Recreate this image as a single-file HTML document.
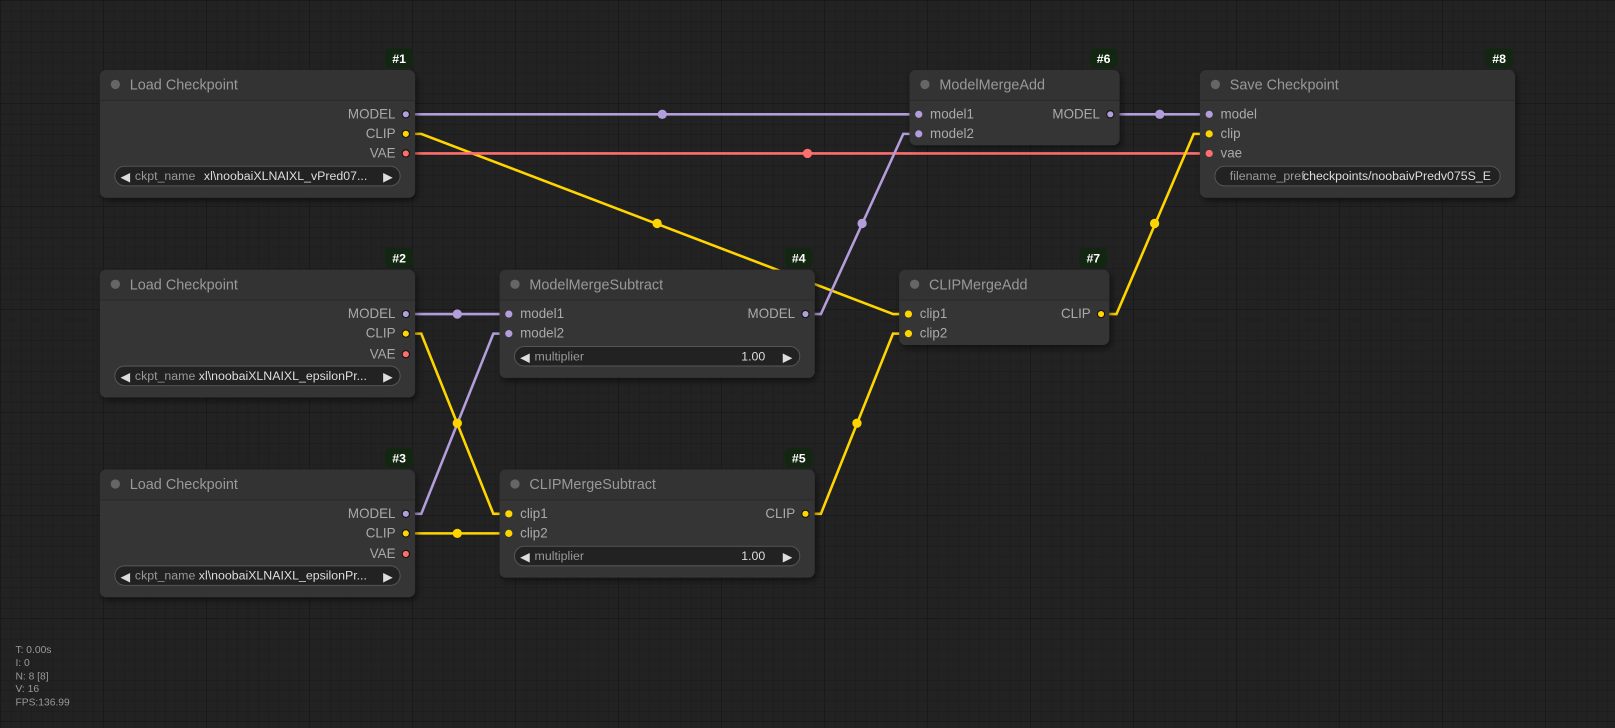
<!DOCTYPE html>
<html><head><meta charset="utf-8"><style>
body{margin:0;width:1615px;height:728px;overflow:hidden;background:#222;font-family:"Liberation Sans",sans-serif;}
svg{position:absolute;left:0;top:0}
</style></head><body>
<svg width="1615" height="728" viewBox="0 0 1568 707" preserveAspectRatio="none" xmlns="http://www.w3.org/2000/svg" font-family="Liberation Sans, sans-serif">
<defs>
<pattern id="g" width="10" height="10" patternUnits="userSpaceOnUse" x="1" y="1"><path d="M10 0V10H0" fill="none" stroke="#1b1b1b" stroke-width="1"/></pattern>
<pattern id="G" width="100" height="100" patternUnits="userSpaceOnUse" x="1" y="1"><path d="M100 0V100H0" fill="none" stroke="#151515" stroke-width="1.2"/></pattern>
<filter id="sh" x="-10%" y="-10%" width="120%" height="130%"><feDropShadow dx="2" dy="3" stdDeviation="3" flood-color="#000" flood-opacity="0.5"/></filter>
</defs>
<rect width="1568" height="707" fill="#222"/>
<rect width="1568" height="707" fill="url(#g)"/>
<rect width="1568" height="707" fill="url(#G)"/>

<g fill="none" stroke-width="2.5">
<polyline stroke="#b39ddb" points="394,111 892,111"/>
<polyline stroke="#ffd500" points="394,130 409,130 867,305 882,305"/>
<polyline stroke="#ff6e6e" points="394,149 1174,149"/>
<polyline stroke="#b39ddb" points="394,305 494,305"/>
<polyline stroke="#ffd500" points="394,324 409,324 479,499 494,499"/>
<polyline stroke="#b39ddb" points="394,499 409,499 479,324 494,324"/>
<polyline stroke="#ffd500" points="394,518 494,518"/>
<polyline stroke="#b39ddb" points="782,305 797,305 877,130 892,130"/>
<polyline stroke="#ffd500" points="782,499 797,499 867,324 882,324"/>
<polyline stroke="#b39ddb" points="1078,111 1174,111"/>
<polyline stroke="#ffd500" points="1069,305 1084,305 1159,130 1174,130"/>
</g>
<g>
<circle cx="643" cy="111" r="4.5" fill="#b39ddb"/>
<circle cx="638" cy="217" r="4.5" fill="#ffd500"/>
<circle cx="784" cy="149" r="4.5" fill="#ff6e6e"/>
<circle cx="444" cy="305" r="4.5" fill="#b39ddb"/>
<circle cx="444" cy="411" r="4.5" fill="#ffd500"/>
<circle cx="444" cy="518" r="4.5" fill="#ffd500"/>
<circle cx="837" cy="217" r="4.5" fill="#b39ddb"/>
<circle cx="832" cy="411" r="4.5" fill="#ffd500"/>
<circle cx="1126" cy="111" r="4.5" fill="#b39ddb"/>
<circle cx="1121" cy="217" r="4.5" fill="#ffd500"/>
</g>

<g font-size="13">
<g>
<rect x="374" y="47" width="27" height="19" rx="4" fill="#122612"/><text x="387.5" y="61" fill="#fff" font-weight="bold" text-anchor="middle" font-size="12">#1</text>
<rect x="97" y="68" width="306" height="124" rx="6" fill="#353535" filter="url(#sh)"/>
<path d="M97 74a6 6 0 0 1 6-6h294a6 6 0 0 1 6 6v23H97z" fill="#333"/><line x1="97" y1="97.5" x2="403" y2="97.5" stroke="#2a2a2a"/>
<circle cx="112" cy="82" r="4.5" fill="#666"/><text x="126" y="87" fill="#999" font-size="14">Load Checkpoint</text>
<text x="384" y="115" fill="#aaa" text-anchor="end">MODEL</text><circle cx="394" cy="111" r="3.5" fill="#b39ddb" stroke="#111"/>
<text x="384" y="134" fill="#aaa" text-anchor="end">CLIP</text><circle cx="394" cy="130" r="3.5" fill="#ffd500" stroke="#111"/>
<text x="384" y="153" fill="#aaa" text-anchor="end">VAE</text><circle cx="394" cy="149" r="3.5" fill="#ff6e6e" stroke="#111"/>
<rect x="111.5" y="161.5" width="277" height="19" rx="9.5" fill="#222" stroke="#555"/>
<text x="117" y="176" fill="#ddd" font-size="12">◀</text><text x="131" y="175" fill="#999" font-size="12">ckpt_name</text>
<text x="198" y="175" fill="#ddd" font-size="12">xl\noobaiXLNAIXL_vPred07...</text><text x="372" y="176" fill="#ddd" font-size="12">▶</text>
</g>
<g>
<rect x="374" y="241" width="27" height="19" rx="4" fill="#122612"/><text x="387.5" y="255" fill="#fff" font-weight="bold" text-anchor="middle" font-size="12">#2</text>
<rect x="97" y="262" width="306" height="124" rx="6" fill="#353535" filter="url(#sh)"/>
<path d="M97 268a6 6 0 0 1 6-6h294a6 6 0 0 1 6 6v23H97z" fill="#333"/><line x1="97" y1="291.5" x2="403" y2="291.5" stroke="#2a2a2a"/>
<circle cx="112" cy="276" r="4.5" fill="#666"/><text x="126" y="281" fill="#999" font-size="14">Load Checkpoint</text>
<text x="384" y="309" fill="#aaa" text-anchor="end">MODEL</text><circle cx="394" cy="305" r="3.5" fill="#b39ddb" stroke="#111"/>
<text x="384" y="328" fill="#aaa" text-anchor="end">CLIP</text><circle cx="394" cy="324" r="3.5" fill="#ffd500" stroke="#111"/>
<text x="384" y="348" fill="#aaa" text-anchor="end">VAE</text><circle cx="394" cy="344" r="3.5" fill="#ff6e6e" stroke="#111"/>
<rect x="111.5" y="355.5" width="277" height="19" rx="9.5" fill="#222" stroke="#555"/>
<text x="117" y="370" fill="#ddd" font-size="12">◀</text><text x="131" y="369" fill="#999" font-size="12">ckpt_name</text>
<text x="193" y="369" fill="#ddd" font-size="12">xl\noobaiXLNAIXL_epsilonPr...</text><text x="372" y="370" fill="#ddd" font-size="12">▶</text>
</g>
<g>
<rect x="374" y="435" width="27" height="19" rx="4" fill="#122612"/><text x="387.5" y="449" fill="#fff" font-weight="bold" text-anchor="middle" font-size="12">#3</text>
<rect x="97" y="456" width="306" height="124" rx="6" fill="#353535" filter="url(#sh)"/>
<path d="M97 462a6 6 0 0 1 6-6h294a6 6 0 0 1 6 6v23H97z" fill="#333"/><line x1="97" y1="485.5" x2="403" y2="485.5" stroke="#2a2a2a"/>
<circle cx="112" cy="470" r="4.5" fill="#666"/><text x="126" y="475" fill="#999" font-size="14">Load Checkpoint</text>
<text x="384" y="503" fill="#aaa" text-anchor="end">MODEL</text><circle cx="394" cy="499" r="3.5" fill="#b39ddb" stroke="#111"/>
<text x="384" y="522" fill="#aaa" text-anchor="end">CLIP</text><circle cx="394" cy="518" r="3.5" fill="#ffd500" stroke="#111"/>
<text x="384" y="542" fill="#aaa" text-anchor="end">VAE</text><circle cx="394" cy="538" r="3.5" fill="#ff6e6e" stroke="#111"/>
<rect x="111.5" y="549.5" width="277" height="19" rx="9.5" fill="#222" stroke="#555"/>
<text x="117" y="564" fill="#ddd" font-size="12">◀</text><text x="131" y="563" fill="#999" font-size="12">ckpt_name</text>
<text x="193" y="563" fill="#ddd" font-size="12">xl\noobaiXLNAIXL_epsilonPr...</text><text x="372" y="564" fill="#ddd" font-size="12">▶</text>
</g>
<g>
<rect x="762" y="241" width="27" height="19" rx="4" fill="#122612"/><text x="775.5" y="255" fill="#fff" font-weight="bold" text-anchor="middle" font-size="12">#4</text>
<rect x="485" y="262" width="306" height="105" rx="6" fill="#353535" filter="url(#sh)"/>
<path d="M485 268a6 6 0 0 1 6-6h294a6 6 0 0 1 6 6v23H485z" fill="#333"/><line x1="485" y1="291.5" x2="791" y2="291.5" stroke="#2a2a2a"/>
<circle cx="500" cy="276" r="4.5" fill="#666"/><text x="514" y="281" fill="#999" font-size="14">ModelMergeSubtract</text>
<circle cx="494" cy="305" r="3.5" fill="#b39ddb"/><text x="505" y="309" fill="#aaa">model1</text>
<circle cx="494" cy="324" r="3.5" fill="#b39ddb"/><text x="505" y="328" fill="#aaa">model2</text>
<text x="772" y="309" fill="#aaa" text-anchor="end">MODEL</text><circle cx="782" cy="305" r="3.5" fill="#b39ddb" stroke="#111"/>
<rect x="499.5" y="336.5" width="277" height="19" rx="9.5" fill="#222" stroke="#555"/>
<text x="505" y="351" fill="#ddd" font-size="12">◀</text><text x="519" y="350" fill="#999" font-size="12">multiplier</text>
<text x="743" y="350" fill="#ddd" font-size="12" text-anchor="end">1.00</text><text x="760" y="351" fill="#ddd" font-size="12">▶</text>
</g>
<g>
<rect x="762" y="435" width="27" height="19" rx="4" fill="#122612"/><text x="775.5" y="449" fill="#fff" font-weight="bold" text-anchor="middle" font-size="12">#5</text>
<rect x="485" y="456" width="306" height="105" rx="6" fill="#353535" filter="url(#sh)"/>
<path d="M485 462a6 6 0 0 1 6-6h294a6 6 0 0 1 6 6v23H485z" fill="#333"/><line x1="485" y1="485.5" x2="791" y2="485.5" stroke="#2a2a2a"/>
<circle cx="500" cy="470" r="4.5" fill="#666"/><text x="514" y="475" fill="#999" font-size="14">CLIPMergeSubtract</text>
<circle cx="494" cy="499" r="3.5" fill="#ffd500"/><text x="505" y="503" fill="#aaa">clip1</text>
<circle cx="494" cy="518" r="3.5" fill="#ffd500"/><text x="505" y="522" fill="#aaa">clip2</text>
<text x="772" y="503" fill="#aaa" text-anchor="end">CLIP</text><circle cx="782" cy="499" r="3.5" fill="#ffd500" stroke="#111"/>
<rect x="499.5" y="530.5" width="277" height="19" rx="9.5" fill="#222" stroke="#555"/>
<text x="505" y="545" fill="#ddd" font-size="12">◀</text><text x="519" y="544" fill="#999" font-size="12">multiplier</text>
<text x="743" y="544" fill="#ddd" font-size="12" text-anchor="end">1.00</text><text x="760" y="545" fill="#ddd" font-size="12">▶</text>
</g>
<g>
<rect x="1058" y="47" width="27" height="19" rx="4" fill="#122612"/><text x="1071.5" y="61" fill="#fff" font-weight="bold" text-anchor="middle" font-size="12">#6</text>
<rect x="883" y="68" width="204" height="73" rx="6" fill="#353535" filter="url(#sh)"/>
<path d="M883 74a6 6 0 0 1 6-6h192a6 6 0 0 1 6 6v23H883z" fill="#333"/><line x1="883" y1="97.5" x2="1087" y2="97.5" stroke="#2a2a2a"/>
<circle cx="898" cy="82" r="4.5" fill="#666"/><text x="912" y="87" fill="#999" font-size="14">ModelMergeAdd</text>
<circle cx="892" cy="111" r="3.5" fill="#b39ddb"/><text x="903" y="115" fill="#aaa">model1</text>
<circle cx="892" cy="130" r="3.5" fill="#b39ddb"/><text x="903" y="134" fill="#aaa">model2</text>
<text x="1068" y="115" fill="#aaa" text-anchor="end">MODEL</text><circle cx="1078" cy="111" r="3.5" fill="#b39ddb" stroke="#111"/>
</g>
<g>
<rect x="1048" y="241" width="27" height="19" rx="4" fill="#122612"/><text x="1061.5" y="255" fill="#fff" font-weight="bold" text-anchor="middle" font-size="12">#7</text>
<rect x="873" y="262" width="204" height="73" rx="6" fill="#353535" filter="url(#sh)"/>
<path d="M873 268a6 6 0 0 1 6-6h192a6 6 0 0 1 6 6v23H873z" fill="#333"/><line x1="873" y1="291.5" x2="1077" y2="291.5" stroke="#2a2a2a"/>
<circle cx="888" cy="276" r="4.5" fill="#666"/><text x="902" y="281" fill="#999" font-size="14">CLIPMergeAdd</text>
<circle cx="882" cy="305" r="3.5" fill="#ffd500"/><text x="893" y="309" fill="#aaa">clip1</text>
<circle cx="882" cy="324" r="3.5" fill="#ffd500"/><text x="893" y="328" fill="#aaa">clip2</text>
<text x="1059" y="309" fill="#aaa" text-anchor="end">CLIP</text><circle cx="1069" cy="305" r="3.5" fill="#ffd500" stroke="#111"/>
</g>
<g>
<rect x="1442" y="47" width="27" height="19" rx="4" fill="#122612"/><text x="1455.5" y="61" fill="#fff" font-weight="bold" text-anchor="middle" font-size="12">#8</text>
<rect x="1165" y="68" width="306" height="124" rx="6" fill="#353535" filter="url(#sh)"/>
<path d="M1165 74a6 6 0 0 1 6-6h294a6 6 0 0 1 6 6v23H1165z" fill="#333"/><line x1="1165" y1="97.5" x2="1471" y2="97.5" stroke="#2a2a2a"/>
<circle cx="1180" cy="82" r="4.5" fill="#666"/><text x="1194" y="87" fill="#999" font-size="14">Save Checkpoint</text>
<circle cx="1174" cy="111" r="3.5" fill="#b39ddb"/><text x="1185" y="115" fill="#aaa">model</text>
<circle cx="1174" cy="130" r="3.5" fill="#ffd500"/><text x="1185" y="134" fill="#aaa">clip</text>
<circle cx="1174" cy="149" r="3.5" fill="#ff6e6e"/><text x="1185" y="153" fill="#aaa">vae</text>
<rect x="1179.5" y="161.5" width="277" height="19" rx="9.5" fill="#222" stroke="#555"/>
<text x="1194" y="175" fill="#999" font-size="12">filename_pref</text>
<text x="1265" y="175" fill="#ddd" font-size="12">checkpoints/noobaivPredv075S_E</text>
</g>
</g>

<g font-size="10" fill="#999">
<text x="15" y="634">T: 0.00s</text>
<text x="15" y="647">I: 0</text>
<text x="15" y="660">N: 8 [8]</text>
<text x="15" y="672">V: 16</text>
<text x="15" y="685">FPS:136.99</text>
</g>
</svg>
</body></html>
